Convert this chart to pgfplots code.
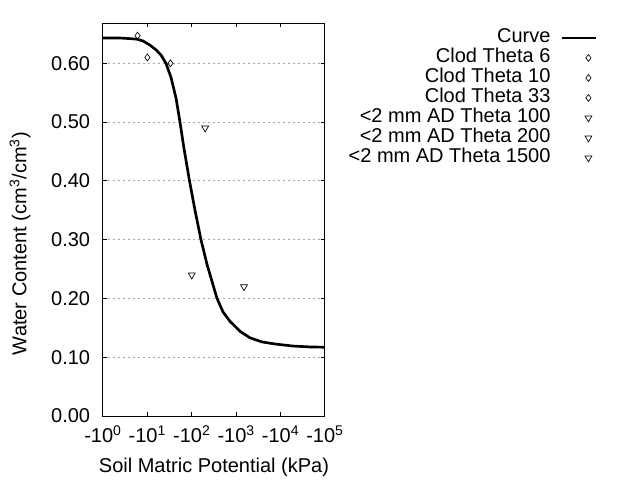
\documentclass[border=0pt]{standalone}
\usepackage{fontspec}
\setmainfont{Liberation Sans}
\usepackage{pgfplots}
\pgfplotsset{compat=1.18}
\pgfplotsset{
  curve legend/.style={legend image code/.code={\draw[##1] (0pt,0pt) -- (26pt,0pt);}},
  mark legend/.style={legend image code/.code={\path[draw=none,fill=none] (0pt,0pt) (26pt,0pt);\draw[##1] plot coordinates {(20pt,0pt)};}},
}

\begin{document}
\fontsize{15}{18}\selectfont
\begin{tikzpicture}
\begin{axis}[%
width=166.5pt,
height=294.5pt,
scale only axis,
xmode=log,
xmin=1, xmax=100000,
ymin=0, ymax=0.668,
xtick={1,10,100,1000,10000,100000},
xticklabels={-10\textsuperscript{0},-10\textsuperscript{1},-10\textsuperscript{2},-10\textsuperscript{3},-10\textsuperscript{4},-10\textsuperscript{5}},
xminorticks=false,
xticklabel style={yshift=-2pt},
ytick={0,0.1,0.2,0.3,0.4,0.5,0.6},
yticklabel style={xshift=-4.5pt, /pgf/number format/.cd, fixed, fixed zerofill, precision=2, assume math mode=true},
minor tick num=0,
major tick length=3pt,
axis line style={line width=0.75pt},
every tick/.style={black, line width=0.75pt},
ymajorgrids,
major grid style={gray!70, line width=0.75pt, dash pattern=on 1.5pt off 2.25pt},
xlabel={Soil Matric Potential (kPa)},
ylabel={Water Content (cm\textsuperscript{3}/cm\textsuperscript{3})},
xlabel style={at={(rel axis cs:0.5,-0.13)}, anchor=center},
ylabel style={at={(rel axis cs:-0.374,0.439)}, anchor=center},
legend style={at={(rel axis cs:2.23,0.989)}, anchor=north east, draw=none, fill=none,
  inner sep=0pt, column sep=7.5pt, legend cell align=right, legend plot pos=right,
  nodes={inner sep=0pt, text height=11pt, text depth=4pt}},
]

% fitted retention curve
\addplot[black, line width=2pt, curve legend]
table[row sep=crcr] {%
x	y\\
1	0.643\\
2.41	0.643\\
4.06	0.642\\
5.83	0.641\\
7.96	0.638\\
11.4	0.631\\
15.6	0.623\\
20.3	0.614\\
26.2	0.600\\
34.0	0.576\\
44.1	0.541\\
54.2	0.500\\
66.7	0.455\\
88.8	0.400\\
118	0.350\\
161	0.300\\
220	0.258\\
285	0.229\\
370	0.200\\
505	0.177\\
725	0.161\\
1219	0.144\\
2046	0.133\\
3813	0.126\\
7480	0.1225\\
19000	0.119\\
45900	0.1175\\
100000	0.117\\
};
\addlegendentry{Curve}

\addplot[only marks, mark=diamond, mark size=2.6pt, mark options={black, line width=0.5pt}, mark legend]
coordinates {(6,0.647)};
\addlegendentry{Clod Theta 6}
\addplot[only marks, mark=diamond, mark size=2.6pt, mark options={black, line width=0.5pt}, mark legend]
coordinates {(10,0.61)};
\addlegendentry{Clod Theta 10}
\addplot[only marks, mark=diamond, mark size=2.6pt, mark options={black, line width=0.5pt}, mark legend]
coordinates {(33,0.60)};
\addlegendentry{Clod Theta 33}
\addplot[only marks, mark=triangle, mark size=3pt, mark options={black, line width=0.5pt, rotate=180}, mark legend]
coordinates {(100,0.24)};
\addlegendentry{<2 mm AD Theta 100}
\addplot[only marks, mark=triangle, mark size=3pt, mark options={black, line width=0.5pt, rotate=180}, mark legend]
coordinates {(200,0.49)};
\addlegendentry{<2 mm AD Theta 200}
\addplot[only marks, mark=triangle, mark size=3pt, mark options={black, line width=0.5pt, rotate=180}, mark legend]
coordinates {(1500,0.22)};
\addlegendentry{<2 mm AD Theta 1500}
\end{axis}
\pgfresetboundingbox
\path[use as bounding box] (current axis.south west) ++(-77.25pt,-48pt) rectangle ++(480pt,360pt);
\end{tikzpicture}
\end{document}
